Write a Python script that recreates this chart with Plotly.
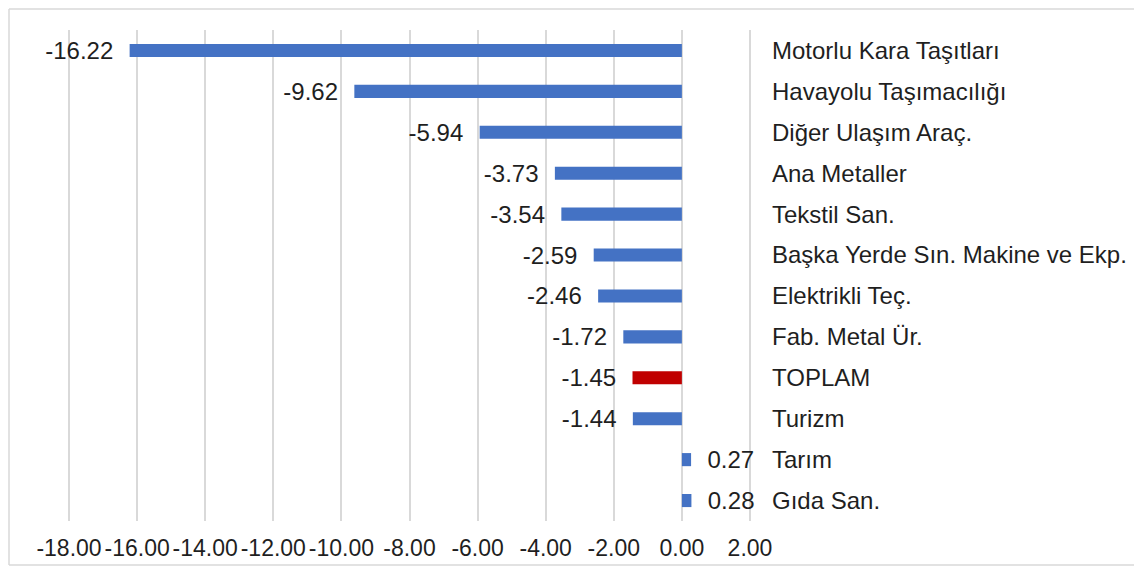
import plotly.graph_objects as go

categories = [
    "Motorlu Kara Taşıtları",
    "Havayolu Taşımacılığı",
    "Diğer Ulaşım Araç.",
    "Ana Metaller",
    "Tekstil San.",
    "Başka Yerde Sın. Makine ve Ekp.",
    "Elektrikli Teç.",
    "Fab. Metal Ür.",
    "TOPLAM",
    "Turizm",
    "Tarım",
    "Gıda San.",
]
values = [-16.22, -9.62, -5.94, -3.73, -3.54, -2.59, -2.46, -1.72, -1.45, -1.44, 0.27, 0.28]
highlight = "TOPLAM"

x_tickvals = [-18, -16, -14, -12, -10, -8, -6, -4, -2, 0, 2]
x_ticktext = ["-18.00", "-16.00", "-14.00", "-12.00", "-10.00", "-8.00", "-6.00",
              "-4.00", "-2.00", "0.00", "2.00"]

BLUE = "#4472C4"
RED = "#C00000"
GRID = "#D9D9D9"
TXT = "#1f1f1f"
FONT = "Liberation Sans, Arial, sans-serif"

NB = "\u00a0"
colors = [RED if c == highlight else BLUE for c in categories]
labels = [(f"{v:.2f}" + NB * 2) if v < 0 else (NB * 2 + f"{v:.2f}") for v in values]

fig = go.Figure(
    go.Bar(
        x=values,
        y=categories,
        orientation="h",
        marker=dict(color=colors, line=dict(width=0)),
        width=0.32,
        text=labels,
        textposition="outside",
        textfont=dict(family=FONT, size=24, color=TXT),
        constraintext="none",
        cliponaxis=False,
    )
)

W, H = 1134, 566
L, R, T, B = 60, 391, 22, 53
pw = W - L - R
ph = H - T - B

fig.update_layout(
    width=W,
    height=H,
    margin=dict(l=L, r=R, t=T, b=B, autoexpand=False),
    paper_bgcolor="white",
    plot_bgcolor="white",
    showlegend=False,
    font=dict(family=FONT, size=24, color=TXT),
)

fig.update_xaxes(
    range=[-18.03, 2.03],
    tickvals=x_tickvals,
    ticktext=x_ticktext,
    showgrid=True,
    gridcolor=GRID,
    gridwidth=1.5,
    zeroline=True,
    zerolinecolor=GRID,
    zerolinewidth=1.5,
    showline=False,
    ticks="",
    automargin=False,
    ticklabelstandoff=11,
    tickfont=dict(family=FONT, size=23, color=TXT),
)

fig.update_yaxes(
    type="category",
    autorange="reversed",
    side="right",
    showgrid=False,
    zeroline=False,
    showline=False,
    ticks="",
    automargin=False,
    ticklabelstandoff=20,
    tickfont=dict(family=FONT, size=24, color=TXT),
)

# outer chart frame (top, left, bottom edges)
def px(fx):
    return (fx - L) / pw

def py(fy):
    return (H - B - fy) / ph

frame = dict(color=GRID, width=1.5)
fig.add_shape(type="line", xref="paper", yref="paper",
              x0=px(1), x1=px(W), y0=py(1), y1=py(1), line=frame, layer="below")
fig.add_shape(type="line", xref="paper", yref="paper",
              x0=px(1), x1=px(1), y0=py(1), y1=py(557), line=frame, layer="below")
fig.add_shape(type="line", xref="paper", yref="paper",
              x0=px(1), x1=px(W), y0=py(557), y1=py(557), line=frame, layer="below")

fig.write_html("out.html")
